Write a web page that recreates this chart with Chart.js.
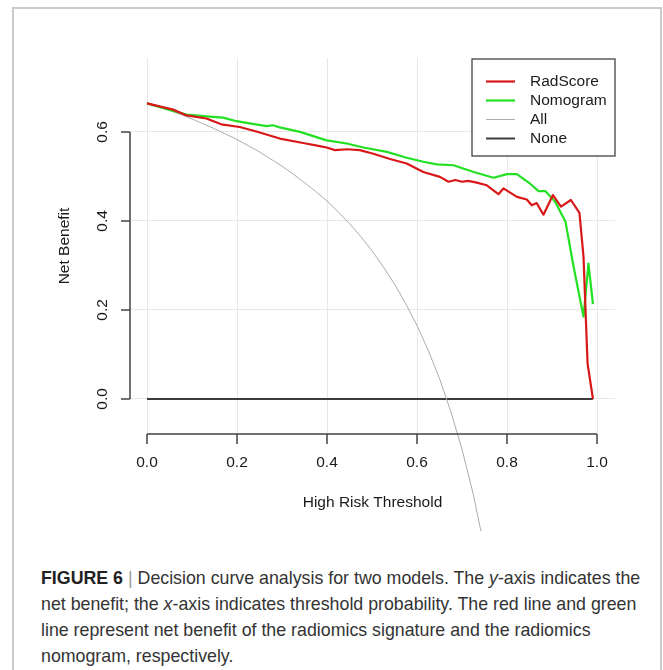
<!DOCTYPE html>
<html>
<head>
<meta charset="utf-8">
<script src="https://cdn.jsdelivr.net/npm/chart.js@4.4.1/dist/chart.umd.min.js"></script>
<style>
  html, body { margin: 0; padding: 0; background: #fff; width: 663px; height: 670px; overflow: hidden; }
  #frame { position: absolute; left: 12px; top: 7px; width: 650px; height: 720px; border: 2px solid #cbcbcb; box-sizing: border-box; }
  #dca { position: absolute; left: 0; top: 0; }
  #caption { position: absolute; left: 41px; top: 565px; font-family: "Liberation Sans", Arial, sans-serif; font-size: 17.8px; line-height: 26px; color: #333; white-space: nowrap; }
  #caption b { color: #222; }
  #caption .bar { color: #999; }
</style>
</head>
<body>
<div id="frame"></div>
<canvas id="dca" width="663" height="540"></canvas>
<div id="caption">
  <b>FIGURE 6</b> <span class="bar">|</span> Decision curve analysis for two models. The <i>y</i>-axis indicates the<br>
  net benefit; the <i>x</i>-axis indicates threshold probability. The red line and green<br>
  line represent net benefit of the radiomics signature and the radiomics<br>
  nomogram, respectively.
</div>
<script>
// valores
const xTicks = [0, 0.2, 0.4, 0.6, 0.8, 1.0];
const xTickLabels = ['0.0', '0.2', '0.4', '0.6', '0.8', '1.0'];
const yTicks = [0, 0.2, 0.4, 0.6];
const yTickLabels = ['0.0', '0.2', '0.4', '0.6'];
const seriesNames = ['RadScore', 'Nomogram', 'All', 'None'];

const radX = [0, 0.058, 0.088, 0.132, 0.165, 0.206, 0.243, 0.295, 0.347, 0.384, 0.399, 0.418, 0.444, 0.473,
  0.503, 0.540, 0.577, 0.614, 0.651, 0.670, 0.685, 0.700, 0.714, 0.733, 0.755, 0.781, 0.792, 0.822, 0.844,
  0.855, 0.866, 0.881, 0.902, 0.920, 0.942, 0.961, 0.970, 0.979, 0.991];
const radY = [0.664, 0.650, 0.637, 0.630, 0.617, 0.611, 0.601, 0.585, 0.575, 0.568, 0.565, 0.559, 0.561, 0.559,
  0.551, 0.539, 0.529, 0.510, 0.499, 0.488, 0.492, 0.488, 0.490, 0.486, 0.480, 0.460, 0.473, 0.454, 0.448,
  0.435, 0.440, 0.414, 0.458, 0.432, 0.447, 0.418, 0.320, 0.080, 0.0];

const nomoX = [0, 0.058, 0.088, 0.132, 0.169, 0.199, 0.228, 0.266, 0.280, 0.295, 0.340, 0.399, 0.444, 0.481,
  0.533, 0.577, 0.614, 0.644, 0.681, 0.726, 0.770, 0.800, 0.822, 0.852, 0.870, 0.885, 0.907, 0.930, 0.948,
  0.970, 0.981, 0.991];
const nomoY = [0.664, 0.647, 0.639, 0.635, 0.632, 0.624, 0.619, 0.613, 0.615, 0.610, 0.600, 0.581, 0.574, 0.565,
  0.555, 0.542, 0.533, 0.527, 0.525, 0.510, 0.497, 0.505, 0.505, 0.483, 0.467, 0.467, 0.443, 0.398, 0.297,
  0.185, 0.304, 0.213];

const allX = [0, 0.025, 0.05, 0.075, 0.10, 0.125, 0.15, 0.175, 0.20, 0.225, 0.25, 0.275, 0.30, 0.325, 0.35,
  0.375, 0.40, 0.425, 0.45, 0.475, 0.50, 0.525, 0.55, 0.575, 0.60, 0.625, 0.65, 0.675, 0.70, 0.725, 0.75, 0.76];
const allY = [0.666, 0.657, 0.648, 0.639, 0.629, 0.618, 0.607, 0.595, 0.583, 0.569, 0.555, 0.539, 0.523, 0.505,
  0.486, 0.466, 0.445, 0.420, 0.394, 0.365, 0.333, 0.297, 0.258, 0.214, 0.165, 0.109, 0.046, -0.028, -0.113,
  -0.214, -0.336, -0.392];

const noneX = [0, 0.991];
const noneY = [0, 0];

const colors = ['#d81818', '#22e022', '#ababab', '#3c3c3c'];
const widths = [2.2, 2.2, 1, 2];

const pts = (xs, ys) => xs.map((x, i) => ({ x: x, y: ys[i] }));
const series = [pts(radX, radY), pts(nomoX, nomoY), pts(allX, allY), pts(noneX, noneY)];

const labelFont = '15.5px "Liberation Sans", Arial, sans-serif';

// ejes al estilo de R + leyenda en caja
const rStyle = {
  id: 'rStyle',
  afterDraw(chart) {
    const { ctx, chartArea: a, scales: { x, y } } = chart;
    ctx.save();
    ctx.strokeStyle = '#444';
    ctx.lineWidth = 1.5;
    ctx.fillStyle = '#1a1a1a';
    ctx.font = labelFont;
    ctx.textAlign = 'center';
    ctx.textBaseline = 'middle';

    // eje x
    const yb = a.bottom;
    ctx.beginPath();
    ctx.moveTo(x.getPixelForValue(xTicks[0]), yb);
    ctx.lineTo(x.getPixelForValue(xTicks[xTicks.length - 1]), yb);
    xTicks.forEach(v => {
      const px = x.getPixelForValue(v);
      ctx.moveTo(px, yb);
      ctx.lineTo(px, yb + 10);
    });
    ctx.stroke();
    xTicks.forEach((v, i) => ctx.fillText(xTickLabels[i], x.getPixelForValue(v), yb + 29));
    ctx.fillText('High Risk Threshold', (a.left + a.right) / 2, yb + 69);

    // eje y
    const xl = a.left;
    ctx.beginPath();
    ctx.moveTo(xl, y.getPixelForValue(yTicks[0]));
    ctx.lineTo(xl, y.getPixelForValue(yTicks[yTicks.length - 1]));
    yTicks.forEach(v => {
      const py = y.getPixelForValue(v);
      ctx.moveTo(xl, py);
      ctx.lineTo(xl - 9, py);
    });
    ctx.stroke();
    yTicks.forEach((v, i) => {
      ctx.save();
      ctx.translate(xl - 27, y.getPixelForValue(v));
      ctx.rotate(-Math.PI / 2);
      ctx.fillText(yTickLabels[i], 0, 0);
      ctx.restore();
    });
    ctx.save();
    ctx.translate(xl - 65, (a.top + a.bottom) / 2);
    ctx.rotate(-Math.PI / 2);
    ctx.fillText('Net Benefit', 0, 0);
    ctx.restore();

    // leyenda
    const bw = 143, bh = 97;
    const bx = a.right - bw, by = a.top + 1;
    ctx.fillStyle = '#fff';
    ctx.fillRect(bx, by, bw, bh);
    ctx.strokeStyle = '#333';
    ctx.lineWidth = 1.2;
    ctx.strokeRect(bx, by, bw, bh);
    ctx.textAlign = 'left';
    chart.data.datasets.forEach((ds, i) => {
      const ry = by + 22.5 + i * 19;
      ctx.strokeStyle = ds.borderColor;
      ctx.lineWidth = ds.borderWidth;
      ctx.beginPath();
      ctx.moveTo(bx + 14, ry);
      ctx.lineTo(bx + 43, ry);
      ctx.stroke();
      ctx.fillStyle = '#1a1a1a';
      ctx.fillText(ds.label, bx + 58, ry + 0.5);
    });
    ctx.restore();
  }
};

new Chart(document.getElementById('dca'), {
  type: 'line',
  data: {
    datasets: series.map((d, i) => ({
      label: seriesNames[i],
      data: d,
      borderColor: colors[i],
      borderWidth: widths[i],
      pointRadius: 0,
      tension: 0,
      fill: false,
      clip: i === 2 ? { left: 0, top: 0, right: 0, bottom: 97 } : 0
    }))
  },
  options: {
    responsive: false,
    animation: false,
    layout: { padding: { left: 130, top: 58, right: 48, bottom: 106 } },
    plugins: { legend: { display: false }, tooltip: { enabled: false } },
    elements: { line: { borderJoinStyle: 'round', borderCapStyle: 'butt' } },
    scales: {
      x: {
        type: 'linear',
        min: -0.0378,
        max: 1.04,
        afterBuildTicks: s => { s.ticks = xTicks.map(v => ({ value: v })); },
        afterFit: s => { s.height = 0; },
        grid: { color: '#e8e8e8', lineWidth: 1, drawTicks: false },
        border: { display: false },
        ticks: { display: false }
      },
      y: {
        type: 'linear',
        min: -0.0787,
        max: 0.766,
        afterBuildTicks: s => { s.ticks = yTicks.map(v => ({ value: v })); },
        afterFit: s => { s.width = 0; },
        grid: { color: '#e8e8e8', lineWidth: 1, drawTicks: false },
        border: { display: false },
        ticks: { display: false }
      }
    }
  },
  plugins: [rStyle]
});
</script>
</body>
</html>
